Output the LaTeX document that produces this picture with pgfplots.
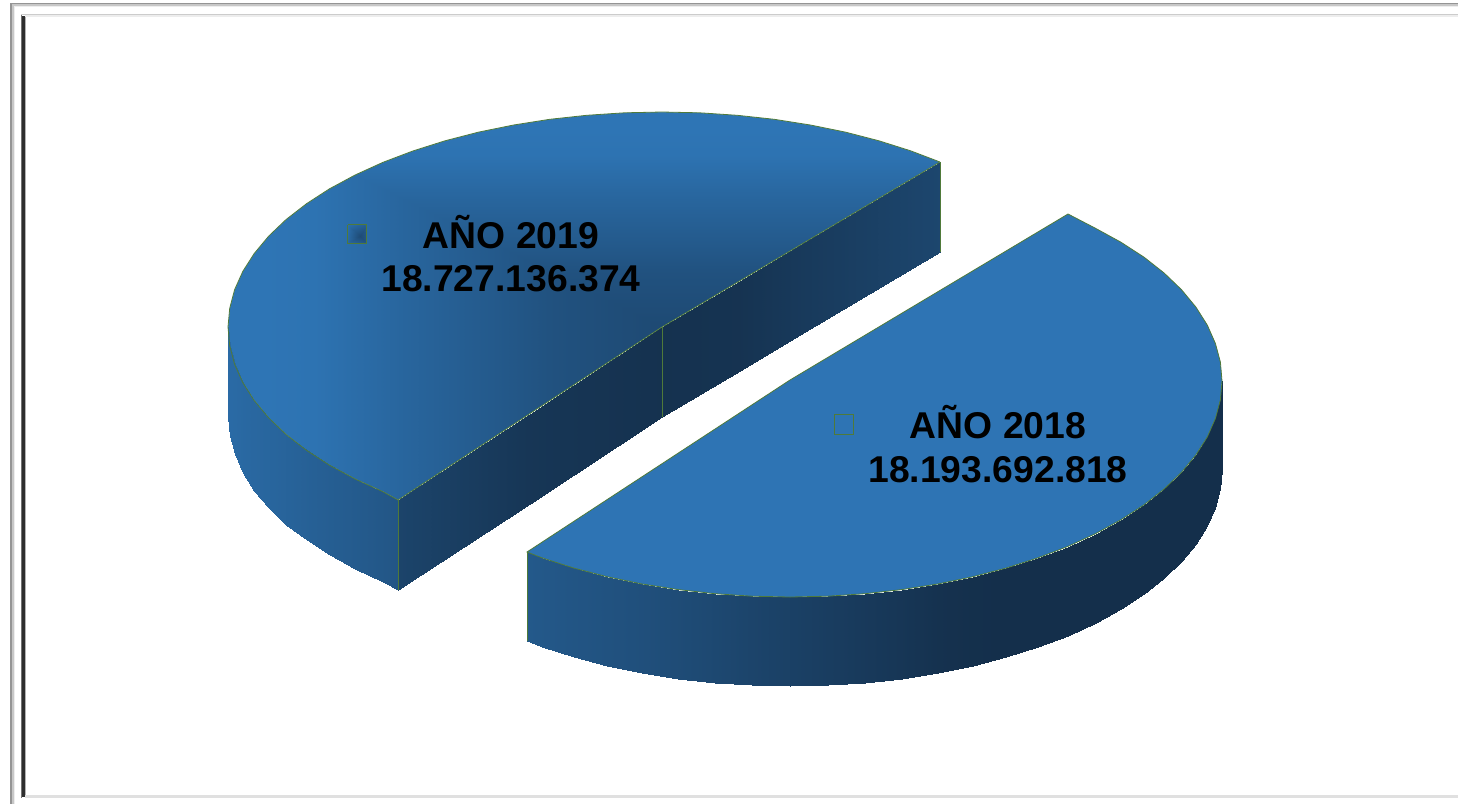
\documentclass[border=0pt]{standalone}
\usepackage{pgfplots}
\pgfplotsset{compat=1.18}
\usepackage{fontspec}
\setmainfont{Liberation Sans}
\definecolor{edge}{HTML}{4F7A3A}
\definecolor{topblue}{HTML}{2E74B4}
\newcommand{\lab}[1]{\fontsize{37.3}{42}\selectfont\bfseries #1}
\begin{document}
\begin{tikzpicture}
\begin{axis}[
  scale only axis, width=1458pt, height=804pt,
  xmin=0, xmax=1458, ymin=0, ymax=804, y dir=reverse,
  hide axis, clip=true,
  colormap={pie}{rgb255(0)=(20,47,75); rgb255(1)=(46,117,181)},
  point meta min=0, point meta max=1,
]
% ---------- 2019 top face: rectangular path gradient
\addplot[surf, shader=interp, mesh/rows=7, mesh/cols=5, point meta=explicit]
 table[x=x,y=y,meta=c] {
x y c
662 327 .38
662 327 .38
662 327 .38
662 327 .38
662 327 .38
553.5 273.25 .49
770.5 273.25 .49
770.5 409.5 .49
553.5 409.5 .49
553.5 273.25 .49
488.4 241 .62
835.6 241 .62
835.6 459 .62
488.4 459 .62
488.4 241 .62
401.6 198 .78
922.4 198 .78
922.4 525 .78
401.6 525 .78
401.6 198 .78
314.8 155 .97
1009.2 155 .97
1009.2 591 .97
314.8 591 .97
314.8 155 .97
262.7 129.2 1
1061.3 129.2 1
1061.3 630.6 1
262.7 630.6 1
262.7 129.2 1
206.3 101.25 1
1117.7 101.25 1
1117.7 673.5 1
206.3 673.5 1
206.3 101.25 1
};
% white surround that trims the gradient to the slice
\addplot[fill=white, draw=none] coordinates {
(940,95)(1125,95)(1125,680)(200,680)(200,95)(940,95)
(940,162)(910.9,150.9)(879,140.8)(845.4,132.1)(810.4,125)(774.3,119.3)(737.4,115.3)(699.8,112.8)(662,112)
(624.2,112.8)(586.6,115.3)(549.7,119.3)(513.6,125)(478.6,132.1)(445,140.8)(413.1,150.9)(383,162.3)(355.1,175)
(329.5,188.8)(306.5,203.7)(286.1,219.5)(268.7,236.1)(254.2,253.5)(242.8,271.4)(234.6,289.7)(229.7,308.3)(228,327)
(229.7,345.7)(234.6,364.3)(242.8,382.6)(254.2,400.5)(268.7,417.9)(286.1,434.5)(306.5,450.3)(329.5,465.2)(355.1,479)(383,491.7)(398,500)
(662,327)(940,162)(940,95)
} --cycle;
\addplot[draw=white, line width=1pt] coordinates {(940,94)(940,160)};
% ---------- 2019 outer wall
\addplot[surf, shader=interp, mesh/rows=2, mesh/cols=12, point meta=explicit]
 table[x=x,y=y,meta=c] {
x y c
228 327 .85
229.7 345.7 .85
234.6 364.3 .84
242.8 382.6 .82
254.2 400.5 .80
268.7 417.9 .78
286.1 434.5 .75
306.5 450.3 .71
329.5 465.2 .67
355.1 479 .63
383 491.7 .58
398 500 .55
228 417 .85
229.7 435.7 .85
234.6 454.3 .84
242.8 472.6 .82
254.2 490.5 .80
268.7 507.9 .78
286.1 524.5 .75
306.5 540.3 .71
329.5 555.2 .67
355.1 569 .63
383 581.7 .58
398 590 .55
};
% ---------- 2019 cut faces
\addplot[surf, shader=interp, mesh/rows=2, mesh/cols=3, point meta=explicit]
 table[x=x,y=y,meta=c] {
x y c
398 500 .3
530 413.5 .1
662 327 .04
398 590 .3
530 503.5 .1
662 417 .04
};
\addplot[surf, shader=interp, mesh/rows=2, mesh/cols=4, point meta=explicit]
 table[x=x,y=y,meta=c] {
x y c
662 327 .04
740 280.7 .06
800 245.1 .15
940 162 .33
662 417 .04
740 370.7 .06
800 335.1 .15
940 252 .33
};
% 2019 edges
\addplot[draw=edge, line width=.8pt] coordinates {
(940,162)(910.9,150.9)(879,140.8)(845.4,132.1)(810.4,125)(774.3,119.3)(737.4,115.3)(699.8,112.8)(662,112)
(624.2,112.8)(586.6,115.3)(549.7,119.3)(513.6,125)(478.6,132.1)(445,140.8)(413.1,150.9)(383,162.3)(355.1,175)
(329.5,188.8)(306.5,203.7)(286.1,219.5)(268.7,236.1)(254.2,253.5)(242.8,271.4)(234.6,289.7)(229.7,308.3)(228,327)
(229.7,345.7)(234.6,364.3)(242.8,382.6)(254.2,400.5)(268.7,417.9)(286.1,434.5)(306.5,450.3)(329.5,465.2)(355.1,479)(383,491.7)(398,500)
(662,327)(940,162)
};
\addplot[draw=edge, line width=.6pt] coordinates {(398,500)(398,590)};
\addplot[draw=edge, line width=.6pt] coordinates {(662,327)(662,417)};
\addplot[draw=edge, line width=.5pt] coordinates {(940,162)(940,252)};
% ---------- 2018 outer wall
\addplot[surf, shader=interp, mesh/rows=2, mesh/cols=29, point meta=explicit]
 table[x=x,y=y,meta=c] {
x y c
527 552 .60
542.2 557.9 .58
574 568.1 .54
607.4 576.8 .50
642.2 584 .46
678.2 589.6 .41
715 593.7 .36
752.3 596.2 .30
790 597 .25
827.7 596.2 .20
865 593.7 .15
901.8 589.6 .10
937.8 584 .04
972.6 576.8 .01
1006 568.1 0
1037.8 557.9 0
1067.7 546.5 0
1095.5 533.7 0
1120.9 519.8 0
1143.9 504.9 0
1164.1 489 0
1181.5 472.3 0
1195.9 454.9 0
1207.3 436.9 0
1215.4 418.5 0
1220.4 399.8 0
1222 381 0
1222 381 0
1222 381 0
527 641 .60
542.2 646.9 .58
574 657.1 .54
607.4 665.8 .50
642.2 673 .46
678.2 678.6 .41
715 682.7 .36
752.3 685.2 .30
790 686 .25
827.7 685.2 .20
865 682.7 .15
901.8 678.6 .10
937.8 673 .04
972.6 665.8 .01
1006 657.1 0
1037.8 646.9 0
1067.7 635.5 0
1095.5 622.7 0
1120.9 608.8 0
1143.9 593.9 0
1164.1 578 0
1181.5 561.3 0
1195.9 543.9 0
1207.3 525.9 0
1215.4 507.5 0
1220.4 488.8 0
1222 470 0
1222 470 0
1222 470 0
};
% ---------- 2018 top face
\addplot[fill=topblue, draw=edge, line width=.8pt] coordinates {
(790,380)(527,552)(542.2,557.9)(574,568.1)(607.4,576.8)(642.2,584)(678.2,589.6)(715,593.7)(752.3,596.2)(790,597)
(827.7,596.2)(865,593.7)(901.8,589.6)(937.8,584)(972.6,576.8)(1006,568.1)(1037.8,557.9)(1067.7,546.5)(1095.5,533.7)
(1120.9,519.8)(1143.9,504.9)(1164.1,489)(1181.5,472.3)(1195.9,454.9)(1207.3,436.9)(1215.4,418.5)(1220.4,399.8)(1222,381)
(1220.4,362.2)(1215.4,343.5)(1207.3,325.1)(1195.9,307.1)(1181.5,289.7)(1164.1,273)(1143.9,257.1)(1120.9,242.2)(1095.5,228.3)(1068,214)(790,380)
};
\addplot[draw=edge, line width=.5pt] coordinates {(527,552)(527,641)};
% ---------- legend keys
\addplot[surf, shader=interp, mesh/rows=2, mesh/cols=5, point meta=explicit]
 table[x=x,y=y,meta=c] {
x y c
360 236 .4
360 236 .4
360 236 .4
360 236 .4
360 236 .4
347.5 224.5 .9
366.5 224.5 .65
366.5 243 .55
347.5 243 .8
347.5 224.5 .9
};
\addplot[draw=edge, line width=.8pt] coordinates {(347.5,224.5)(366.5,224.5)(366.5,243)(347.5,243)(347.5,224.5)};
\addplot[draw=edge, line width=.8pt] coordinates {(834,414.5)(853,414.5)(853,434)(834,434)(834,414.5)};
% ---------- frame
\addplot[fill=black!42, draw=none] coordinates {(10,3)(12,3)(12,804)(10,804)} --cycle;
\addplot[fill=black!22, draw=none] coordinates {(12,4)(14,4)(14,804)(12,804)} --cycle;
\addplot[fill=black!7, draw=none] coordinates {(14,5)(15,5)(15,804)(14,804)} --cycle;
\addplot[fill=black!42, draw=none] coordinates {(10,3)(1458,3)(1458,4.2)(10,4.2)} --cycle;
\addplot[fill=black!22, draw=none] coordinates {(12,4.2)(1458,4.2)(1458,5.5)(12,5.5)} --cycle;
\addplot[fill=black!7, draw=none] coordinates {(14,5.5)(1458,5.5)(1458,6.5)(14,6.5)} --cycle;
\addplot[fill=black!20, draw=none] coordinates {(21,13.5)(1458,13.5)(1458,15.2)(21,15.2)} --cycle;
\addplot[fill=black!7, draw=none] coordinates {(25,15.2)(1458,15.2)(1458,17)(25,17)} --cycle;
\addplot[fill=black!12, draw=none] coordinates {(25,795)(1458,795)(1458,797.5)(25,797.5)} --cycle;
\addplot[fill=black!55, draw=none] coordinates {(21,15)(22,15)(22,798)(21,798)} --cycle;
\addplot[fill=black!82, draw=none] coordinates {(22,16)(25,16)(25,797)(22,797)} --cycle;
\addplot[fill=black!30, draw=none] coordinates {(25,17)(26,17)(26,795)(25,795)} --cycle;
% ---------- labels
\node[anchor=base, inner sep=0pt] at (axis cs:511,248.5) {\lab{AÑO 2019}};
\node[anchor=base, inner sep=0pt] at (axis cs:511,291.7) {\lab{18.727.136.374}};
\node[anchor=base, inner sep=0pt] at (axis cs:998,438) {\lab{AÑO 2018}};
\node[anchor=base, inner sep=0pt] at (axis cs:998,482) {\lab{18.193.692.818}};
\path (axis cs:0,0) rectangle (axis cs:1458,804);
\end{axis}
\path (current axis.south west) rectangle (current axis.north east);
\end{tikzpicture}
\end{document}
